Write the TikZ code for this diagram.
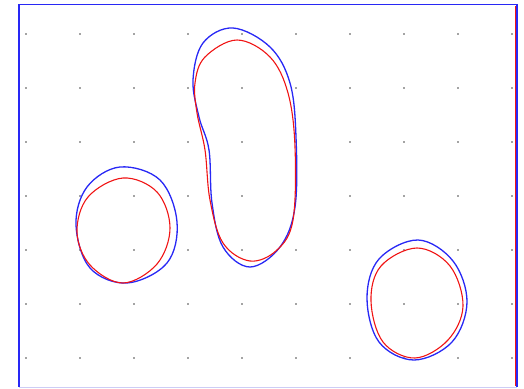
\documentclass[tikz,border=0pt]{standalone}
\usepackage{tikz}
\definecolor{cBlue}{RGB}{40,40,245}
\definecolor{cRed}{RGB}{240,20,20}
\definecolor{cDot}{RGB}{70,70,70}
\definecolor{cEdge}{RGB}{205,205,245}

\begin{document}
\begin{tikzpicture}[
  x=1pt,y=-1pt,
  outer/.style={cBlue,line width=1.3pt,line join=round},
  inner/.style={cRed,line width=1.1pt,line join=round},
]
\useasboundingbox (0,0) rectangle (524,388);

% grid of dots
\foreach \i in {0,...,9}
  \foreach \j in {0,...,6}
    \fill[cDot] (26+54*\i,34+54*\j) circle (0.9);

% frame
\draw[cEdge,line width=0.8pt] (19,387) -- (517,387);
\draw[cBlue,line width=1.3pt] (19,387) -- (19,4.5) -- (517,4.5) -- (517,387);
\draw[cRed,line width=0.9pt] (515,6) -- (515,386);

% left blob
\draw[outer] plot[smooth cycle,tension=0.6] coordinates
  {(120,167) (160,180) (177,222) (167,263) (127,283) (90,268) (76,225) (87,187)};
\draw[inner] plot[smooth cycle,tension=0.6] coordinates
  {(123,178) (157,192) (170,228) (157,264) (123,283) (90,265) (77,232) (88,197)};

% middle blob
\draw[outer] plot[smooth cycle,tension=0.6] coordinates
  {(233,28) (270,47) (290,83) (296,137) (295,207) (280,247) (250,267)
   (223,247) (212,203) (209,150) (199,117) (193,80) (203,43)};
\draw[inner] plot[smooth cycle,tension=0.6] coordinates
  {(237,40) (270,57) (288,93) (295,147) (293,220) (277,250) (250,261)
   (223,243) (210,200) (205,150) (197,113) (195,83) (205,57)};

% right blob
\draw[outer] plot[smooth cycle,tension=0.6] coordinates
  {(418,240) (453,261) (467,302) (452,342) (414,360) (379,342) (367,298) (379,259)};
\draw[inner] plot[smooth cycle,tension=0.6] coordinates
  {(417,248) (450,266) (463,306) (448,340) (415,358) (383,342) (371,301) (381,266)};
\end{tikzpicture}
\end{document}
